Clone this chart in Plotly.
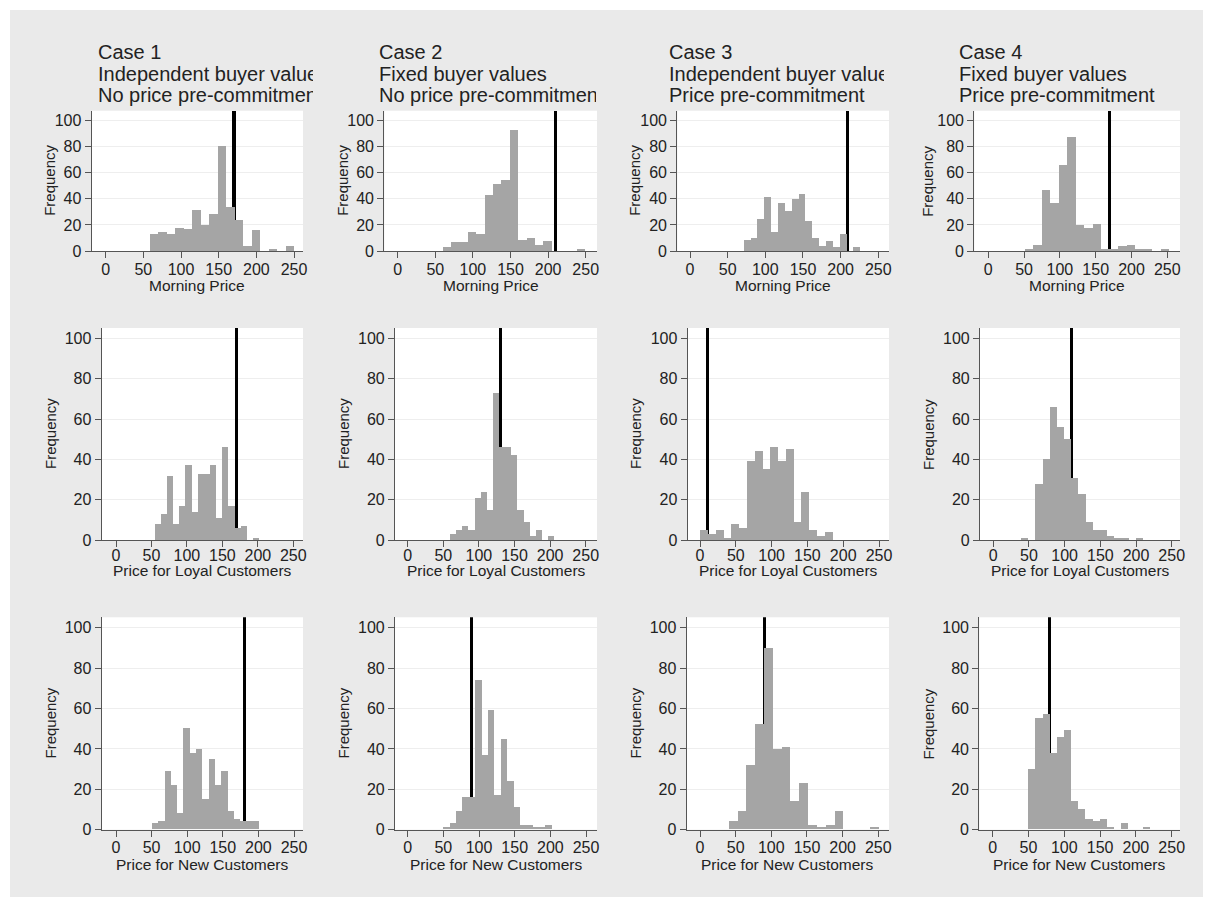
import plotly.graph_objects as go

# ---------------- data ----------------
case_titles = ["Case 1", "Case 2", "Case 3", "Case 4"]
value_titles = ["Independent buyer values", "Fixed buyer values",
                "Independent buyer values", "Fixed buyer values"]
commit_titles = ["No price pre-commitment", "No price pre-commitment",
                 "Price pre-commitment", "Price pre-commitment"]
row_xtitles = ["Morning Price", "Price for Loyal Customers", "Price for New Customers"]
x_ticks = [0, 50, 100, 150, 200, 250]
y_ticks = [0, 20, 40, 60, 80, 100]

# Morning price histograms (counts per bin)
case1_morning = [13, 15, 13, 18, 17, 32, 20, 29, 81, 34, 24, 4, 16, 0, 2, 0, 4]
case2_morning = [3, 7, 7, 15, 13, 43, 52, 55, 93, 9, 10, 5, 8, 0, 0, 0, 2]
case3_morning = [9, 10, 25, 42, 15, 37, 31, 40, 44, 23, 10, 4, 8, 3, 13, 0, 3]
case4_morning = [2, 5, 47, 37, 66, 88, 20, 18, 21, 2, 2, 4, 5, 2, 2, 0, 2]
# Price for loyal customers
case1_loyal = [8, 13, 32, 8, 17, 37, 14, 33, 33, 37, 11, 46, 17, 6, 7, 0, 1]
case2_loyal = [3, 5, 7, 5, 21, 24, 15, 73, 46, 46, 42, 15, 9, 2, 5, 0, 2]
case3_loyal = [5, 3, 5, 1, 8, 6, 39, 44, 35, 46, 39, 45, 9, 24, 5, 2, 4]
case4_loyal = [1, 0, 28, 40, 66, 56, 50, 31, 23, 9, 5, 5, 2, 1, 1, 0, 1]
# Price for new customers
case1_new = [3, 4, 29, 22, 8, 50, 38, 40, 15, 35, 22, 29, 9, 5, 4, 4, 4]
case2_new = [1, 3, 9, 16, 16, 74, 37, 59, 17, 45, 24, 11, 2, 2, 1, 1, 2]
case3_new = [4, 9, 32, 52, 90, 40, 41, 14, 23, 2, 1, 2, 9, 0, 0, 0, 1]
case4_new = [30, 55, 57, 38, 46, 49, 14, 10, 5, 4, 5, 1, 0, 3, 0, 0, 1]

# histogram bin starts and widths (price units)
morning_bin_start = [58, 60, 71.7, 51]
morning_bin_width = [11.3, 11.18, 9.1, 11.9]
loyal_bin_start = [54, 59.5, 0, 38.8]
loyal_bin_width = [8.68, 8.6, 10.87, 10.07]
new_bin_start = [50, 50, 40, 50]
new_bin_width = [8.87, 8.94, 12.35, 10]

# reference (equilibrium) price lines
morning_ref = [170, 210, 210, 170]
loyal_ref = [170, 130, 10, 110]
new_ref = [180, 90, 90, 80]

counts = [[case1_morning, case2_morning, case3_morning, case4_morning],
          [case1_loyal, case2_loyal, case3_loyal, case4_loyal],
          [case1_new, case2_new, case3_new, case4_new]]
bin_start = [morning_bin_start, loyal_bin_start, new_bin_start]
bin_width = [morning_bin_width, loyal_bin_width, new_bin_width]
ref_line = [morning_ref, loyal_ref, new_ref]

# ---------------- layout geometry (page pixels) ----------------
PAGE_W, PAGE_H = 1213, 909
OFF = 8                      # default body margin of the html page
FW, FH = PAGE_W - OFF, PAGE_H - OFF


def px(p):
    return (p - OFF) / FW


def py(p):
    return 1 - (p - OFF) / FH


AX_L = [[91.7, 384.3, 677.3, 974.3], [101.7, 395, 687.7, 980], [101.7, 395, 686.7, 979.3]]
ZERO = [[105.7, 397.7, 690, 988.3], [116, 407.7, 700, 993.3], [116, 407.7, 700, 992.7]]
F250 = [[294, 585.7, 878.3, 1167.3], [293.3, 585.7, 879, 1171.7], [294, 586, 878.3, 1171.7]]
AX_R = [303, 597, 889, 1180]
ROW_TOP = [110.7, 328, 617.3]
ROW_BOT = [251, 540, 829.7]
ROW_YMAX = [107.7, 105.2, 105.2]
FREQ_X = [50, 343, 635, 928]
XTITLE_Y = [285, 570, 864]
TICK_STANDOFF = [-2, -5, -3]
HEAD_X = [96.7, 377.7, 668, 958]
HEAD_W = [215, 217, 215, 230]
HEAD_Y = [51.7, 73.8, 94.7]
LINE_PX = 3.2

FONT = "Liberation Sans, Arial, sans-serif"
BAR_COLOR = "#a5a5a5"
BG = "#eaeaea"

fig = go.Figure()
layout = {}
# white frame around the grey graph region
shapes = [
    dict(type="rect", xref="paper", yref="paper", x0=-0.01, x1=px(10), y0=-0.01, y1=1.01,
         fillcolor="white", line_width=0, layer="above"),
    dict(type="rect", xref="paper", yref="paper", x0=px(1203), x1=1.01, y0=-0.01, y1=1.01,
         fillcolor="white", line_width=0, layer="above"),
    dict(type="rect", xref="paper", yref="paper", x0=-0.01, x1=1.01, y0=py(10), y1=1.01,
         fillcolor="white", line_width=0, layer="above"),
    dict(type="rect", xref="paper", yref="paper", x0=-0.01, x1=1.01, y0=-0.01, y1=py(897),
         fillcolor="white", line_width=0, layer="above"),
]
annotations = []

for r in range(3):
    for c in range(4):
        i = r * 4 + c + 1
        sfx = "" if i == 1 else str(i)
        xa, ya = "x" + sfx, "y" + sfx
        s = (F250[r][c] - ZERO[r][c]) / 250.0
        xr = [(AX_L[r][c] - ZERO[r][c]) / s, (AX_R[c] - ZERO[r][c]) / s]
        cnt = counts[r][c]
        w = bin_width[r][c]
        centers = [bin_start[r][c] + w * (k + 0.5) for k in range(len(cnt))]
        # reference price line first so that the histogram bars cover it
        fig.add_trace(go.Bar(x=[ref_line[r][c]], y=[ROW_YMAX[r]], width=LINE_PX / s,
                             xaxis=xa, yaxis=ya,
                             marker=dict(color="black", line=dict(width=0)),
                             showlegend=False, hoverinfo="x"))
        fig.add_trace(go.Bar(x=centers, y=cnt, width=w, xaxis=xa, yaxis=ya,
                             marker=dict(color=BAR_COLOR, line=dict(width=0)),
                             showlegend=False, hoverinfo="x+y"))
        layout["xaxis" + sfx] = dict(
            domain=[px(AX_L[r][c]), px(AX_R[c])], range=xr, anchor=ya,
            tickvals=x_ticks, ticks="outside", ticklen=6, tickcolor="#555555",
            showline=True, linecolor="#555555", linewidth=1.2,
            showgrid=False, zeroline=False, ticklabelstandoff=TICK_STANDOFF[r],
            tickfont=dict(family=FONT, size=16, color="#222222"), fixedrange=True)
        layout["yaxis" + sfx] = dict(
            domain=[py(ROW_BOT[r]), py(ROW_TOP[r])], range=[0, ROW_YMAX[r]],
            anchor=xa, tickvals=y_ticks, ticks="outside", ticklen=6, tickcolor="#555555",
            showline=True, linecolor="#555555", linewidth=1.2,
            showgrid=True, gridcolor="#eeeeee", gridwidth=1, zeroline=False,
            tickfont=dict(family=FONT, size=16, color="#222222"), fixedrange=True)
        # axis titles
        annotations.append(dict(text="Frequency", textangle=-90, showarrow=False,
                                xref="paper", yref="paper", x=px(FREQ_X[c]),
                                y=py((ROW_TOP[r] + ROW_BOT[r]) / 2),
                                xanchor="center", yanchor="middle",
                                font=dict(family=FONT, size=15, color="#222222")))
        annotations.append(dict(text=row_xtitles[r], showarrow=False,
                                xref="paper", yref="paper",
                                x=px((AX_L[r][c] + AX_R[c]) / 2), y=py(XTITLE_Y[r]),
                                xanchor="center", yanchor="middle",
                                font=dict(family=FONT, size=15.5, color="#222222")))

# column headings (clipped to the panel width like the original)
for c in range(4):
    for j, txt in enumerate([case_titles[c], value_titles[c], commit_titles[c]]):
        annotations.append(dict(text=txt, showarrow=False, xref="paper", yref="paper",
                                x=px(HEAD_X[c]), y=py(HEAD_Y[j]),
                                xanchor="left", yanchor="middle", align="left",
                                width=HEAD_W[c], borderpad=0,
                                font=dict(family=FONT, size=20, color="#222222")))

fig.update_layout(**layout)
fig.update_layout(width=FW, height=FH, margin=dict(l=0, r=0, t=0, b=0, autoexpand=False),
                  paper_bgcolor=BG, plot_bgcolor="white",
                  shapes=shapes, annotations=annotations,
                  barmode="overlay", bargap=0, font=dict(family=FONT))
fig.write_html("out.html", config={"displayModeBar": False})
